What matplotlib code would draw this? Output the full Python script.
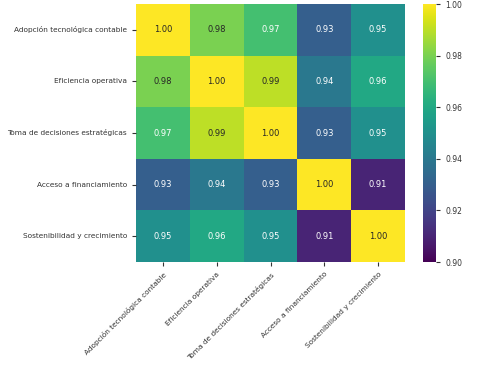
import matplotlib
matplotlib.use("Agg")
import matplotlib.pyplot as plt
import seaborn as sns
import numpy as np

labels = ["Adopción tecnológica contable", "Eficiencia operativa",
          "Toma de decisiones estratégicas", "Acceso a financiamiento",
          "Sostenibilidad y crecimiento"]
row0 = [1.00, 0.98, 0.97, 0.93, 0.95]
row1 = [0.98, 1.00, 0.99, 0.94, 0.96]
row2 = [0.97, 0.99, 1.00, 0.93, 0.95]
row3 = [0.93, 0.94, 0.93, 1.00, 0.91]
row4 = [0.95, 0.96, 0.95, 0.91, 1.00]
corr = np.array([row0, row1, row2, row3, row4])

fig = plt.figure(figsize=(4.82, 3.67), dpi=100)
ax = fig.add_axes([136/482, 1-262/367, (405-136)/482, (262-4)/367])
cax = fig.add_axes([423/482, 1-262/367, 13/482, (262-4)/367])

sns.heatmap(corr, annot=True, fmt=".2f", cmap="viridis", vmin=0.90, vmax=1.00,
            xticklabels=labels, yticklabels=labels, ax=ax, cbar_ax=cax,
            annot_kws={"fontsize": 6})

ax.tick_params(axis="both", labelsize=5.3, colors="#333333", length=3)
plt.setp(ax.get_xticklabels(), rotation=45, ha="right", rotation_mode="anchor")
plt.setp(ax.get_yticklabels(), rotation=0)
cax.tick_params(labelsize=5.5, colors="#333333", length=3)
cax.set_yticks([0.90, 0.92, 0.94, 0.96, 0.98, 1.00])
cax.set_yticklabels(["0.90", "0.92", "0.94", "0.96", "0.98", "1.00"])

fig.savefig("out.png", dpi=100)
